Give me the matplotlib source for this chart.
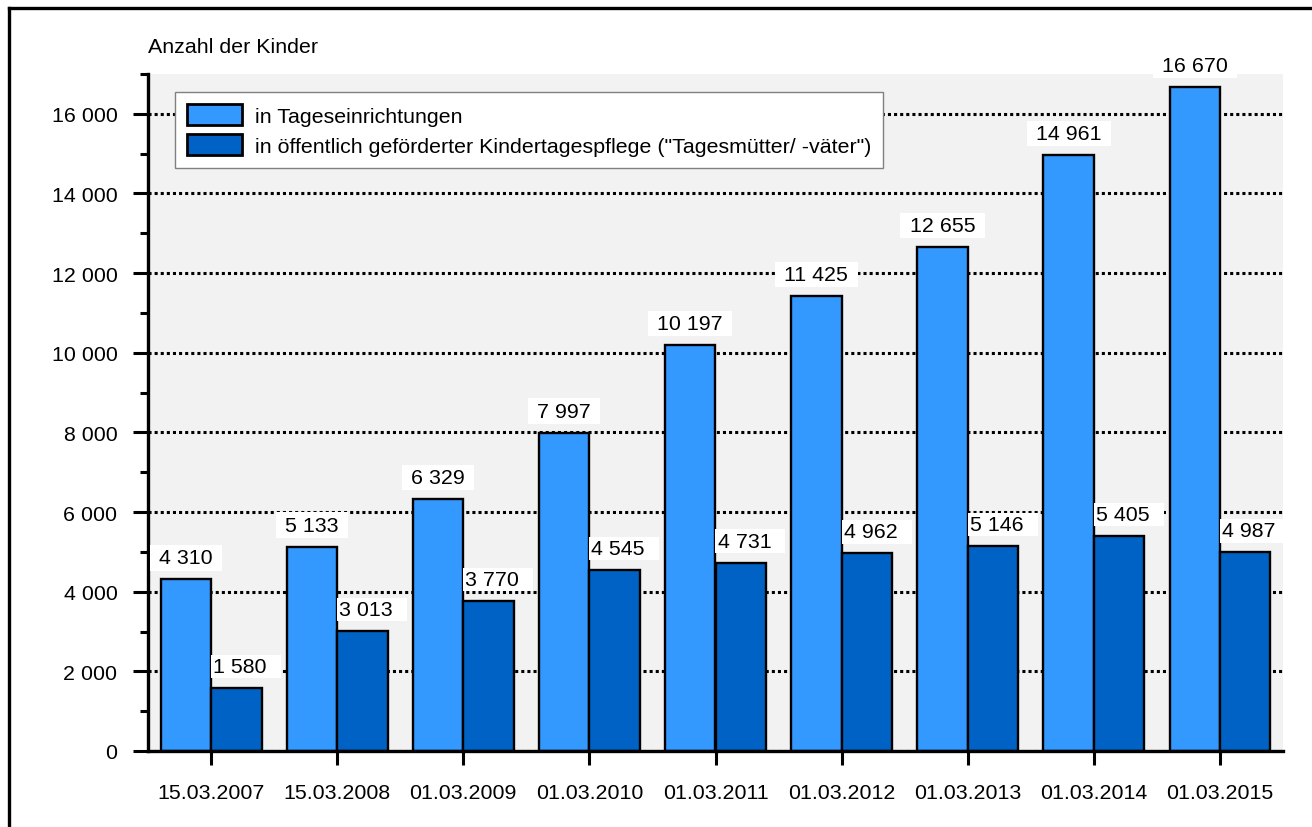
import matplotlib
matplotlib.use("Agg")
import matplotlib.pyplot as plt
from matplotlib.lines import Line2D
from matplotlib.ticker import MultipleLocator, FuncFormatter
from matplotlib.transforms import offset_copy
import numpy as np

dates = ["15.03.2007", "15.03.2008", "01.03.2009", "01.03.2010", "01.03.2011",
         "01.03.2012", "01.03.2013", "01.03.2014", "01.03.2015"]
tageseinrichtungen = [4310, 5133, 6329, 7997, 10197, 11425, 12655, 14961, 16670]
tagespflege = [1580, 3013, 3770, 4545, 4731, 4962, 5146, 5405, 4987]
series_names = ["in Tageseinrichtungen",
                "in öffentlich geförderter Kindertagespflege (\"Tagesmütter/ -väter\")"]
y_title = "Anzahl der Kinder"

plt.rcParams["font.family"] = ["Liberation Sans", "DejaVu Sans"]
FS = 15.4

light = "#3399FF"
dark = "#0062C4"

fig = plt.figure(figsize=(13.12, 8.28), dpi=100)
ax = fig.add_axes([148/1312, 1-752/828, (1283-148)/1312, (752-75)/828])
ax.set_facecolor("#F2F2F2")

x = np.arange(len(dates))
w = 0.4
b1 = ax.bar(x - w/2, tageseinrichtungen, w, color=light, edgecolor="black", linewidth=1.7, zorder=3,
            label=series_names[0])
b2 = ax.bar(x + w/2, tagespflege, w, color=dark, edgecolor="black", linewidth=1.7, zorder=3,
            label=series_names[1])

def fmt(v):
    return f"{v:,}".replace(",", " ")

for r, v in zip(b1, tageseinrichtungen):
    ax.annotate(" " + fmt(v) + " ", (r.get_x() + r.get_width()/2, v),
                xytext=(0, 15.5), textcoords="offset points",
                ha="center", va="center", fontsize=FS, zorder=5,
                bbox=dict(boxstyle="square,pad=0.15", fc="white", ec="none"))
for r, v in zip(b2, tagespflege):
    ax.annotate(fmt(v) + "  ", (r.get_x(), v),
                xytext=(1.5, 15.5), textcoords="offset points",
                ha="left", va="center", fontsize=FS, zorder=5,
                bbox=dict(boxstyle="square,pad=0.1", fc="white", ec="none"))

ax.set_xlim(-0.5, len(dates) - 0.5)
ax.set_ylim(0, 17000)
ax.yaxis.set_major_locator(MultipleLocator(2000))
ax.yaxis.set_minor_locator(MultipleLocator(1000))
ax.yaxis.set_major_formatter(FuncFormatter(lambda v, p: fmt(int(v))))
ax.set_xticks(x)
ax.set_xticklabels(dates)
ax.grid(axis="y", which="major", color="black", linestyle=(0, (1, 1)), linewidth=2.2, zorder=1)
ax.set_axisbelow(True)

for s in ("top", "right"):
    ax.spines[s].set_visible(False)
for s in ("left", "bottom"):
    ax.spines[s].set_linewidth(2.4)
    ax.spines[s].set_zorder(4)

ax.tick_params(axis="y", which="major", direction="out", length=11, width=2.2, labelsize=FS, pad=11)
ax.tick_params(axis="y", which="minor", direction="out", length=6, width=2.2)
ax.tick_params(axis="x", which="major", direction="out", length=10, width=2.2, labelsize=FS, pad=13)

ax.text(0, 1.0 + 18/677, y_title, transform=ax.transAxes, ha="left", va="bottom", fontsize=FS)

leg = ax.legend(loc="upper left", bbox_to_anchor=((175-148)/1135, (752-93)/677), borderaxespad=0,
                fontsize=FS, frameon=True, fancybox=False, handlelength=2.57, handleheight=1.17,
                handletextpad=0.6, labelspacing=0.37, borderpad=0.56)
leg.get_frame().set_edgecolor("#808080")
leg.get_frame().set_linewidth(1.0)
leg.get_frame().set_facecolor("white")
leg.get_frame().set_alpha(1)
leg.set_zorder(6)
for p in leg.get_patches():
    p.set_linewidth(2.0)

fig.add_artist(Line2D([8.5/1312, 1], [1-8.5/828, 1-8.5/828], color="black", linewidth=2.4))
fig.add_artist(Line2D([8.5/1312, 8.5/1312], [0, 1-8.5/828], color="black", linewidth=2.4))

fig.savefig("out.png", dpi=100, facecolor="white")
